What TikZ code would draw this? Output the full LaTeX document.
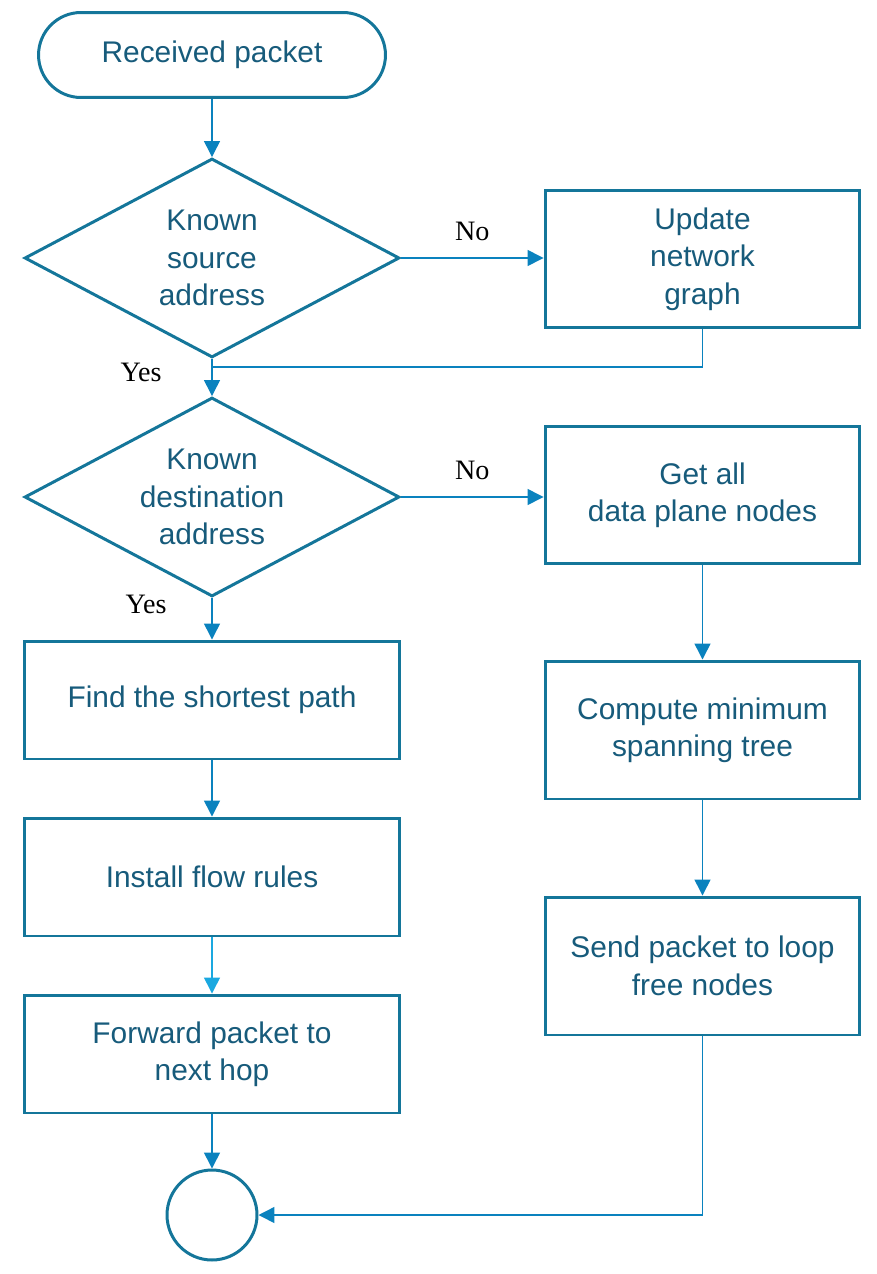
\documentclass[tikz,border=0pt]{standalone}
\usepackage{fontspec}
\setmainfont{Liberation Sans}
\newfontfamily\yesnofont{Liberation Serif}
\usetikzlibrary{shapes.geometric, arrows.meta}

\definecolor{flowline}{HTML}{14769A}
\definecolor{flowtext}{HTML}{175B7B}
\definecolor{flowarrow}{HTML}{0A82BE}
\definecolor{flowlight}{HTML}{1AA8E0}

\tikzset{
    every node/.style={font=\fontsize{17}{21.3}\selectfont, text=flowtext, align=center},
    startbox/.style={draw=flowline, line width=1.7pt, rounded corners=0.85cm,
        minimum width=6.94cm, minimum height=1.7cm},
    leftbox/.style={draw=flowline, line width=1.7pt, minimum width=7.5cm, minimum height=2.36cm},
    rightbox/.style={draw=flowline, line width=1.7pt, minimum width=6.3cm, minimum height=2.76cm},
    decision/.style={draw=flowline, line width=1.7pt, diamond, aspect=2, inner sep=0pt,
        minimum width=7.5cm, minimum height=3.98cm},
    endcircle/.style={draw=flowline, line width=1.7pt, circle, minimum size=1.8cm},
    conn/.style={draw=flowarrow, line width=0.8pt},
    arr/.style={conn, -{Triangle[length=9pt,width=9pt]}},
    yesno/.style={font=\yesnofont\fontsize{16}{19}\selectfont, text=black}
}

\begin{document}
\begin{tikzpicture}[x=0.02cm, y=-0.02cm]
\useasboundingbox (0,0) rectangle (876,1274);

% left column
\node[startbox] (start) at (212,55) {Received packet};
\node[decision] (src) at (212,258) {Known\\source\\address};
\node[decision] (dst) at (212,497) {Known\\destination\\address};
\node[leftbox] (path) at (212,700) {Find the shortest path};
\node[leftbox] (rules) at (212,877) {Install flow rules};
\node[leftbox] (fwd) at (212,1054) {Forward packet to\\next hop};
\node[endcircle] (stop) at (212,1215) {};

% right column
\node[rightbox] (graph) at (702.5,259) {Update\\network\\graph};
\node[rightbox] (nodes) at (702.5,495) {Get all\\data plane nodes};
\node[rightbox] (tree) at (702.5,730) {Compute minimum\\spanning tree};
\node[rightbox] (send) at (702.5,966) {Send packet to loop\\free nodes};

\coordinate (join) at (212,367);

% connectors
\draw[arr] (start) -- (src);
\draw[arr] (src.east) -- (graph.west |- src.east)
    node[midway, above=6pt, yesno] {No};
\draw[conn] (graph.south) |- (join);
\draw[arr] (src.south) -- (dst.north);
\node[yesno] (yes1) at (141,372) {Yes};

\draw[arr] (dst.east) -- (nodes.west |- dst.east)
    node[midway, above=6pt, yesno] {No};
\draw[arr] (dst.south) -- (path.north);
\node[yesno] (yes2) at (146,604) {Yes};

\draw[arr] (path) -- (rules);
\draw[arr, draw=flowlight, -{Triangle[length=9pt,width=9pt,fill=flowlight]}] (rules) -- (fwd);
\draw[arr] (fwd) -- (stop);

\draw[arr] (nodes) -- (tree);
\draw[arr] (tree) -- (send);
\draw[arr] (send.south) |- (stop.east);
\end{tikzpicture}
\end{document}
